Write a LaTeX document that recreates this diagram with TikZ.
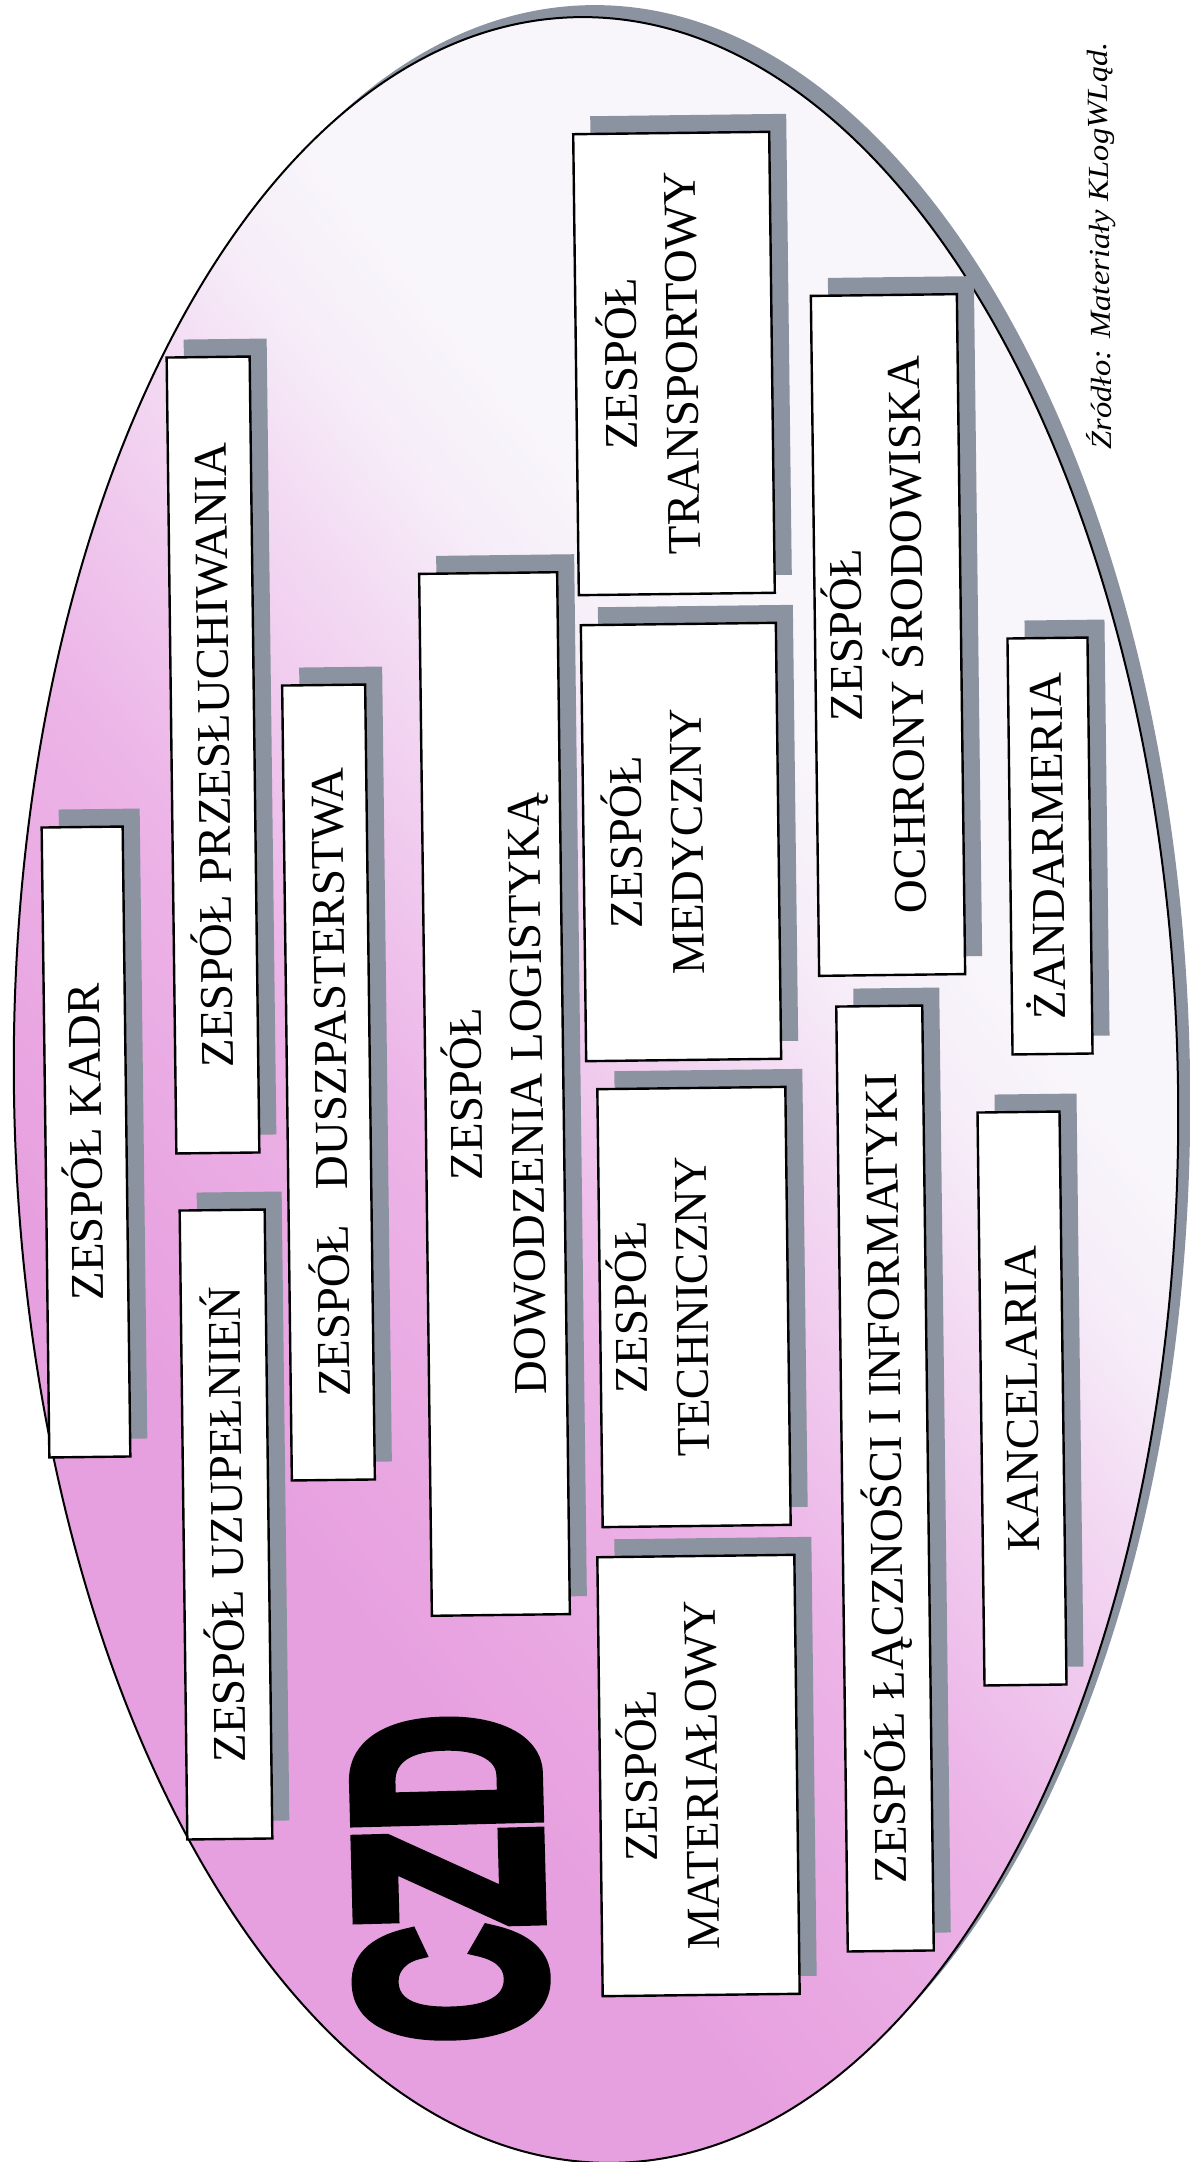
\documentclass[tikz,border=0pt]{standalone}
\usepackage{graphicx}
\usepackage{fontspec}
\setmainfont{Liberation Serif}
\newfontface\czdfont{Liberation Sans Bold}[FakeBold=7]
\definecolor{shgray}{RGB}{139,146,160}
\definecolor{czpinkA}{RGB}{231,160,223}
\definecolor{czpinkB}{RGB}{236,180,231}
\definecolor{czpinkC}{RGB}{243,218,243}
\definecolor{czpinkD}{RGB}{246,237,248}
\definecolor{czwhite}{RGB}{248,246,251}
\pgfdeclarehorizontalshading{czdshade}{100bp}{color(0bp)=(czpinkA); color(34bp)=(czpinkA); color(45bp)=(czpinkB); color(54bp)=(czpinkC); color(58bp)=(czpinkD); color(62bp)=(czwhite); color(100bp)=(czwhite)}
\tikzset{
  zshadow/.style={rectangle, fill=shgray, draw=none, rotate=90.7, inner sep=0pt},
  zframe/.style={rectangle, fill=white, draw=black, line width=2.4pt, rotate=90.7, inner sep=0pt},
  zlabel/.style={rotate=90.7, inner sep=0pt, font=\fontsize{47}{61}\selectfont},
  zone/.style={zlabel, text height=31pt, text depth=0pt},
}
\newcommand{\zbox}[5]{%
  \node[zshadow, minimum width=#4pt, minimum height=#5pt] (#1s) at (#2+17,#3-18) {};
  \node[zframe, minimum width=#4pt, minimum height=#5pt] (#1) at (#2,#3) {};
}
\newcommand{\twol}[2]{\begin{tabular}{@{}c@{}}#1\\#2\end{tabular}}
\begin{document}
\begin{tikzpicture}[x=1pt,y=-1pt]
\useasboundingbox (0,0) rectangle (1190,2162);
\clip (0,0) rectangle (1190,2162);
\fill[white] (0,0) rectangle (1190,2162);
% ellipse with shadow
\fill[shgray, rotate around={1:(608,1078)}] (608,1078) ellipse [x radius=582, y radius=1073];
\shade[shading=czdshade, shading angle=39.4, draw=black, line width=2pt, rotate around={1:(596,1090)}] (596,1090) ellipse [x radius=582, y radius=1073];
% boxes
\zbox{kadr}{86}{1142}{630}{81}
\zbox{przes}{213}{755}{796}{83}
\zbox{uzup}{226}{1524.5}{629}{85}
\zbox{dusz}{328.5}{1082.5}{795}{83}
\zbox{dowo}{494.5}{1094}{1042}{138}
\zbox{trans}{674}{363.5}{461}{196}
\zbox{medy}{681}{842}{436}{195}
\zbox{tech}{694}{1307}{438}{188}
\zbox{mate}{698.5}{1775.5}{439}{197}
\zbox{ochr}{888}{635}{680}{146}
\zbox{lacz}{885}{1478.5}{945}{86}
\zbox{zand}{1050}{846}{416}{80}
\zbox{kanc}{1022}{1398.5}{573}{82}
% labels
\node[zone] (kadrT) at (86,1142) {ZESPÓŁ KADR};
\node[zone] (przesT) at (214,755) {ZESPÓŁ PRZESŁUCHIWANIA};
\node[zone] (uzupT) at (227,1524.5) {ZESPÓŁ UZUPEŁNIEŃ};
\node[zone] (duszT) at (331,1082.5) {ZESPÓŁ\hspace{0.5em} DUSZPASTERSTWA};
\node[zlabel] (dowoT) at (500,1094) {\twol{ZESPÓŁ}{DOWODZENIA LOGISTYKĄ}};
\node[zlabel] (transT) at (655,363.5) {\twol{ZESPÓŁ}{TRANSPORTOWY}};
\node[zlabel] (medyT) at (660,842) {\twol{ZESPÓŁ}{MEDYCZNY}};
\node[zlabel] (techT) at (665,1307) {\twol{ZESPÓŁ}{TECHNICZNY}};
\node[zlabel] (mateT) at (675,1775.5) {\twol{ZESPÓŁ}{MATERIAŁOWY}};
\node[zlabel] (ochrT) at (880,635) {\twol{ZESPÓŁ}{OCHRONY ŚRODOWISKA}};
\node[zone] (laczT) at (886,1478.5) {ZESPÓŁ ŁĄCZNOŚCI I INFORMATYKI};
\node[zone] (zandT) at (1048,846) {ŻANDARMERIA};
\node[zone] (kancT) at (1022,1398.5) {KANCELARIA};
% logo
\node[rotate=91.5, inner sep=0pt, font=\czdfont\fontsize{256}{256}\selectfont] (czd) at (448.5,1878.5) {\scalebox{0.62}[1]{CZD}};
% source
\node[rotate=90.7, inner sep=0pt, font=\fontsize{29}{32}\selectfont\itshape] (src) at (1100,246) {\scalebox{1.13}[1]{Źródło: Materiały KLogWLąd.}};
\end{tikzpicture}
\end{document}
